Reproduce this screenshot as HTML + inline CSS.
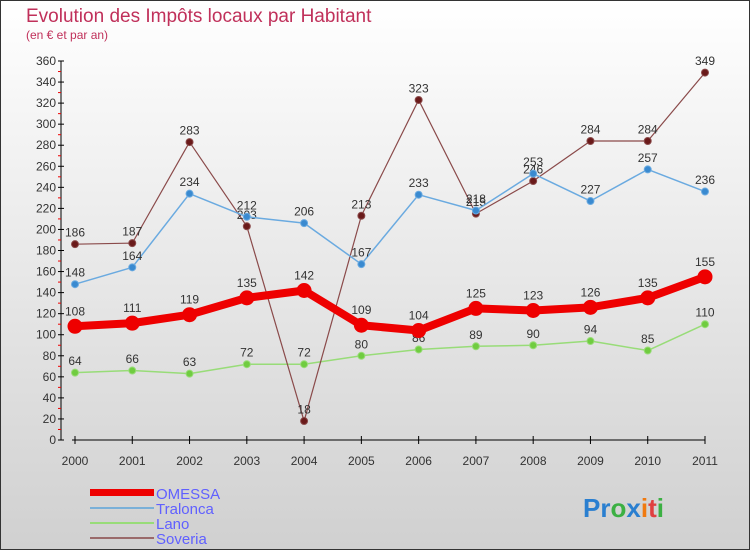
<!DOCTYPE html>
<html><head><meta charset="utf-8"><style>
html,body{margin:0;padding:0}
body{width:750px;height:550px;overflow:hidden;font-family:"Liberation Sans",sans-serif}
</style></head><body>
<svg id="chart" width="750" height="550" xmlns="http://www.w3.org/2000/svg">
<defs><linearGradient id="bg" x1="0" y1="0" x2="0" y2="1"><stop offset="0" stop-color="#ffffff"/><stop offset="1" stop-color="#d0d0d0"/></linearGradient></defs>
<rect x="0.5" y="0.5" width="749" height="549" fill="url(#bg)" stroke="#333" stroke-width="1"/>
<text x="26" y="22" font-size="19" fill="#c0305a">Evolution des Impôts locaux par Habitant</text>
<text x="26" y="39" font-size="12" fill="#c0305a">(en € et par an)</text>
<g id="axes"></g><g id="series"></g>
<g>
<rect x="90" y="489" width="64" height="7" fill="#e00"/>
<text x="156" y="499" font-size="15" fill="#6060ff">OMESSA</text>
<line x1="90" y1="508" x2="154" y2="508" stroke="#7ab0d8" stroke-width="2"/>
<text x="156" y="514" font-size="15" fill="#6060ff">Tralonca</text>
<line x1="90" y1="523" x2="154" y2="523" stroke="#98dc78" stroke-width="2"/>
<text x="156" y="529" font-size="15" fill="#6060ff">Lano</text>
<line x1="90" y1="538" x2="154" y2="538" stroke="#9a6a6a" stroke-width="2"/>
<text x="156" y="544" font-size="15" fill="#6060ff">Soveria</text>
</g>
<text x="583" y="517" font-size="26" font-weight="bold"><tspan fill="#2a7fd0">Pr</tspan><tspan fill="#3cb043">o</tspan><tspan fill="#2a7fd0">x</tspan><tspan fill="#f07a10">i</tspan><tspan fill="#e04040">t</tspan><tspan fill="#3cb043">i</tspan></text>
</svg>
<script>
const years=["2000","2001","2002","2003","2004","2005","2006","2007","2008","2009","2010","2011"];
const omessa=[108,111,119,135,142,109,104,125,123,126,135,155];
const tralonca=[148,164,234,212,206,167,233,218,253,227,257,236];
const lano=[64,66,63,72,72,80,86,89,90,94,85,110];
const soveria=[186,187,283,203,18,213,323,215,246,284,284,349];
const yTicks=[0,20,40,60,80,100,120,140,160,180,200,220,240,260,280,300,320,340,360];
const NS="http://www.w3.org/2000/svg";
const x0=75,x1=705,yb=440,yt=61,ymax=360;
function xs(i){return x0+i*(x1-x0)/(years.length-1);}
function ys(v){return yb-v*(yb-yt)/ymax;}
function mk(tag,attrs,parent){const e=document.createElementNS(NS,tag);for(const k in attrs)e.setAttribute(k,attrs[k]);parent.appendChild(e);return e;}
const ax=document.getElementById('axes'),sg=document.getElementById('series');
let l=mk('line',{x1:61,y1:yt,x2:61,y2:yb,stroke:'#000','stroke-width':1},ax);


l=mk('line',{x1:x0-3,y1:yb,x2:x1,y2:yb,stroke:'#000','stroke-width':1},ax);


yTicks.forEach(v=>{
  const y=ys(v);
  mk('line',{x1:58,y1:y,x2:64,y2:y,stroke:'#000'},ax);
  if(v<ymax)mk('line',{x1:58,y1:ys(v+10),x2:61,y2:ys(v+10),stroke:'#e00'},ax);
  const t=mk('text',{x:56,y:y+4,'font-size':12,'text-anchor':'end',fill:'#333'},ax);
  t.textContent=v;
  
  
});
years.forEach((yr,i)=>{
  const x=xs(i);
  mk('line',{x1:x,y1:yb-4,x2:x,y2:yb+4,stroke:'#000'},ax);
  const t=mk('text',{x:x,y:yb+25,'font-size':12,'text-anchor':'middle',fill:'#333'},ax);
  t.textContent=yr;
  
  
});
function series(name,vals,color,lw,r,dot){
  const g=mk('g',{},sg);
  
  
  const p=mk('polyline',{points:vals.map((v,i)=>xs(i)+','+ys(v)).join(' '),fill:'none',stroke:color,'stroke-width':lw,'stroke-linejoin':'round'},g);
  
  
  vals.forEach((v,i)=>{
    const c=mk('circle',{cx:xs(i),cy:ys(v),r:r,fill:dot,stroke:color,'stroke-width':1},g);
    
    
    const t=mk('text',{x:xs(i),y:ys(v)-r-4,'font-size':12,'text-anchor':'middle',fill:'#333'},g);
    t.textContent=v;
    
    
  });
}
series('lano',lano,'#98dc78',1.5,3.5,'#70cc40');
series('soveria',soveria,'#8a4a4a',1.2,3.5,'#6a1a1a');
series('tralonca',tralonca,'#6aaae0',1.5,3.5,'#3a8ad0');
series('omessa',omessa,'#ee0000',8,7,'#ee0000');
</script>
</body></html>
